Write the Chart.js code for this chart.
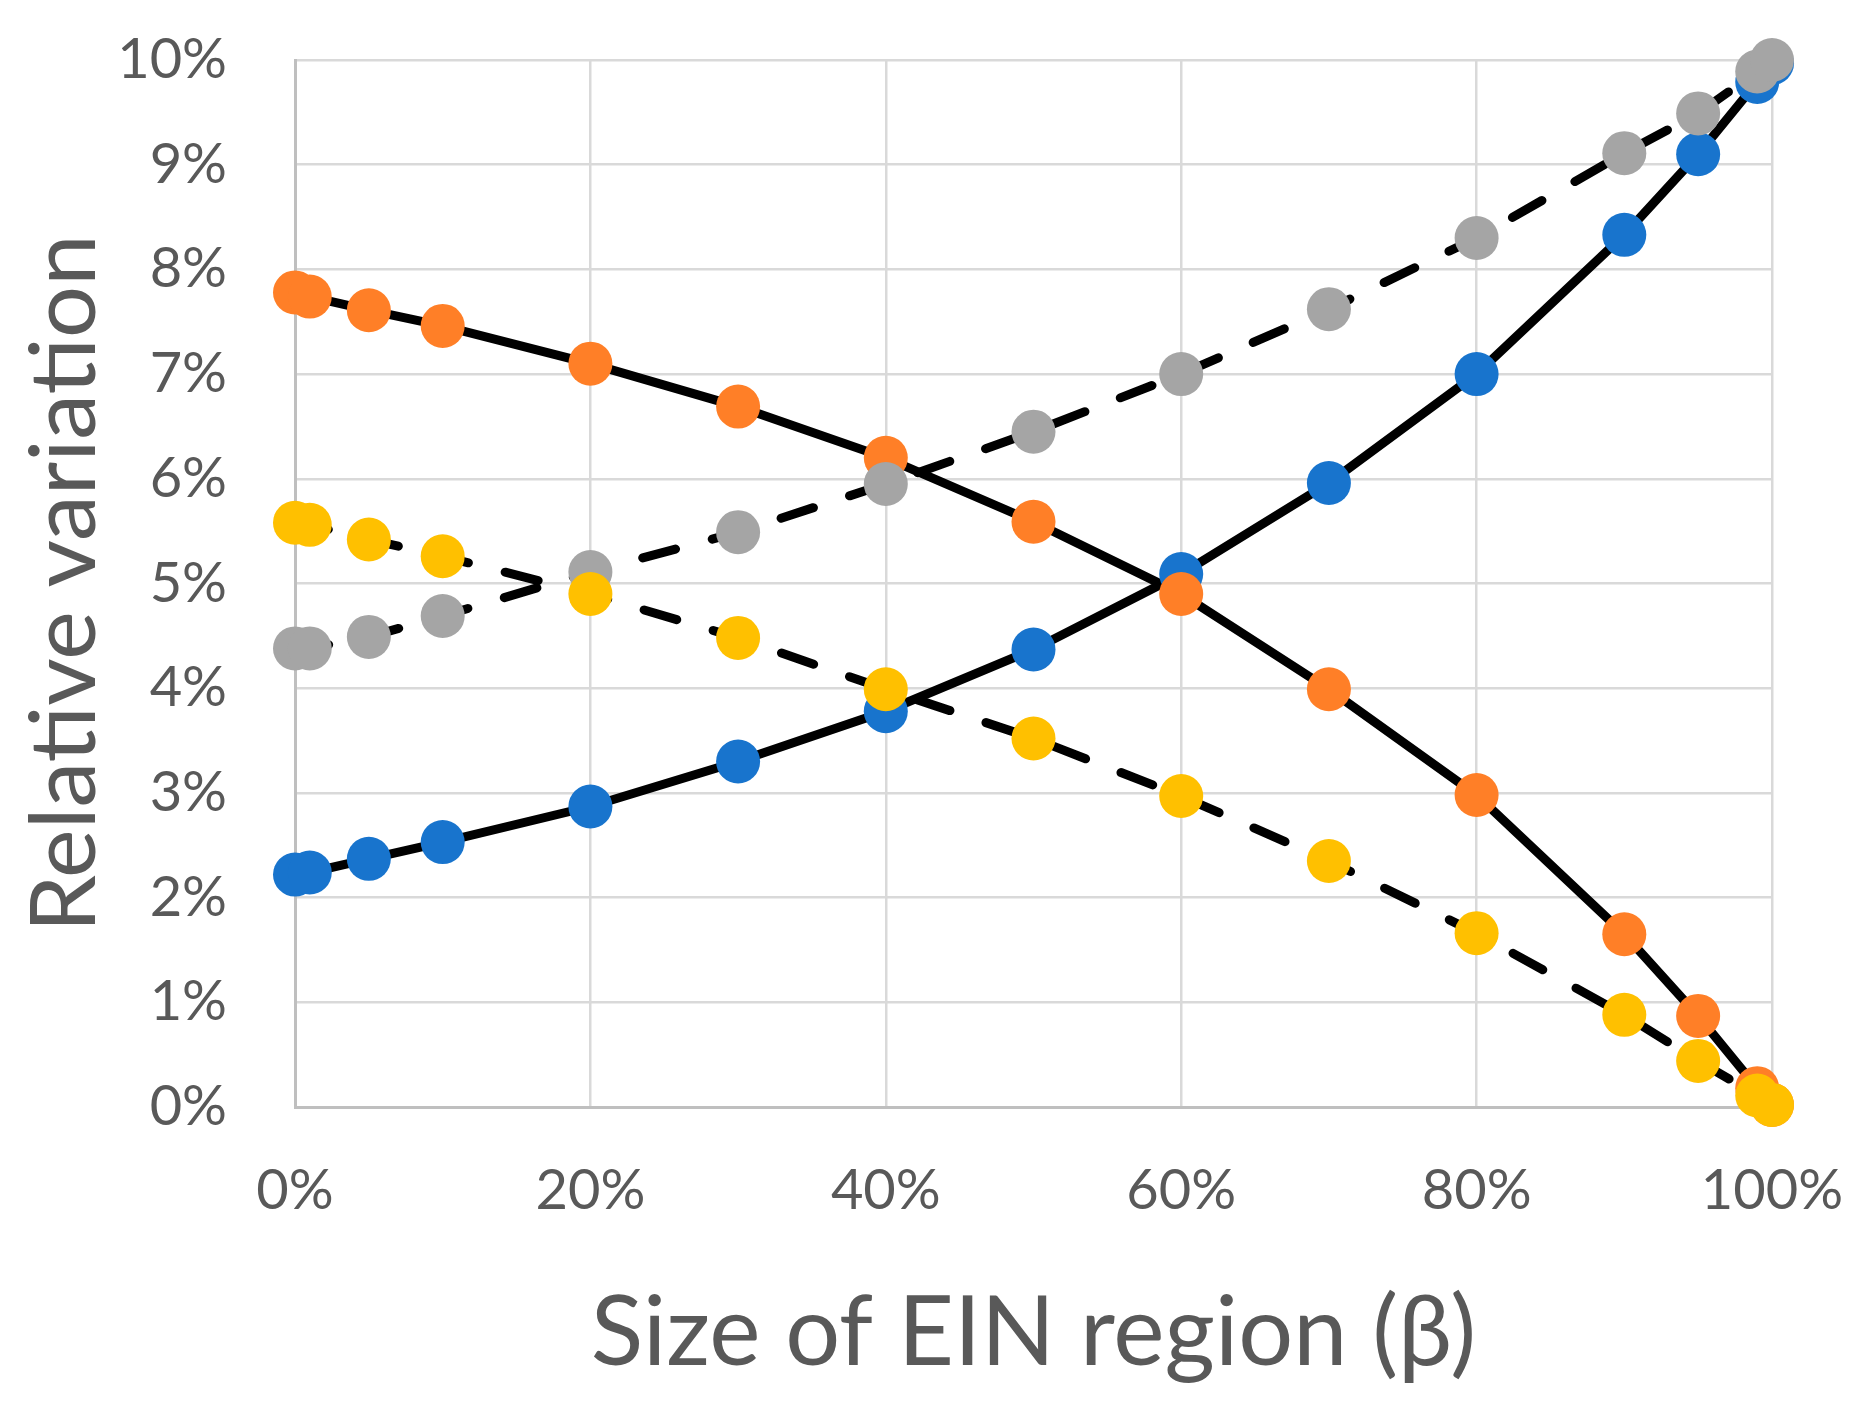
<!DOCTYPE html>
<html>
<head>
<meta charset="utf-8">
<script src="https://cdn.jsdelivr.net/npm/chart.js@4.4.1/dist/chart.umd.min.js"></script>
<style>
    html, body { margin: 0; padding: 0; background: #fff; }
</style>
</head>
<body>
<canvas id="relChart" width="1871" height="1402"></canvas>
<script>
// size of EIN region (beta), in %
const beta = [0, 1, 5, 10, 20, 30, 40, 50, 60, 70, 80, 90, 95, 99, 100];
// relative variation, in %
const blueVals = [2.22, 2.24, 2.37, 2.53, 2.87, 3.30, 3.78, 4.37, 5.09, 5.96, 7.00, 8.33, 9.10, 9.79, 9.97];
const orangeVals = [7.78, 7.74, 7.61, 7.46, 7.10, 6.69, 6.20, 5.59, 4.90, 3.99, 2.98, 1.65, 0.87, 0.18, 0.02];
const grayVals = [4.38, 4.38, 4.49, 4.69, 5.11, 5.49, 5.95, 6.45, 7.00, 7.62, 8.30, 9.11, 9.49, 9.89, 10.0];
const yellowVals = [5.58, 5.56, 5.42, 5.26, 4.90, 4.48, 3.99, 3.52, 2.97, 2.35, 1.66, 0.88, 0.44, 0.11, 0.02];
const xTicks = [0, 20, 40, 60, 80, 100];
const yTicks = [0, 1, 2, 3, 4, 5, 6, 7, 8, 9, 10];

const toXY = vals => vals.map((v, i) => ({ x: beta[i], y: v }));

const series = [
    { vals: yellowVals, color: '#FFC000', dashed: true },
    { vals: grayVals, color: '#A5A5A5', dashed: true },
    { vals: orangeVals, color: '#FF7F27', dashed: false },
    { vals: blueVals, color: '#1874CD', dashed: false }
];

const datasets = [];
series.forEach((s, i) => {
    // markers
    datasets.push({
        data: toXY(s.vals),
        showLine: false,
        pointRadius: 22,
        pointHoverRadius: 22,
        pointBorderWidth: 0,
        pointBackgroundColor: s.color,
        clip: false,
        order: i + 1
    });
    // black connecting line, drawn under all markers
    datasets.push({
        data: toXY(s.vals),
        borderColor: '#000',
        borderWidth: 9,
        borderDash: s.dashed ? [34, 38] : [],
        borderCapStyle: s.dashed ? 'round' : 'butt',
        pointRadius: 0,
        fill: false,
        order: 10 + i
    });
});

const tickFont = { family: 'Lato', size: 56 };

const ctx = document.getElementById('relChart').getContext('2d');
const relChart = new Chart(ctx, {
    type: 'line',
    data: { datasets: datasets },
    options: {
        responsive: false,
        devicePixelRatio: 1,
        animation: false,
        layout: { autoPadding: false, padding: { top: 60, right: 99, left: 0, bottom: 0 } },
        plugins: { legend: { display: false }, tooltip: { enabled: false } },
        scales: {
            x: {
                type: 'linear',
                min: 0,
                max: 100,
                afterBuildTicks: axis => { axis.ticks = xTicks.map(v => ({ value: v })); },
                afterFit: axis => { axis.height = 295; axis.paddingLeft = 0; axis.paddingRight = 0; },
                ticks: { font: tickFont, color: '#595959', padding: 50, maxRotation: 0, callback: v => v + '%' },
                grid: { color: '#d9d9d9', lineWidth: 2.5, drawTicks: false },
                border: { color: '#bfbfbf', width: 3 },
                title: {
                    display: true,
                    text: 'Size of EIN region (β)',
                    font: { family: 'Lato', size: 97 },
                    color: '#595959',
                    padding: { top: 0, bottom: 10 }
                }
            },
            y: {
                type: 'linear',
                min: 0,
                max: 10,
                afterBuildTicks: axis => { axis.ticks = yTicks.map(v => ({ value: v })); },
                afterFit: axis => { axis.width = 295; axis.paddingTop = 0; axis.paddingBottom = 0; },
                ticks: { font: tickFont, color: '#595959', padding: 68, callback: v => v + '%' },
                grid: { color: '#d9d9d9', lineWidth: 2.5, drawTicks: false },
                border: { color: '#bfbfbf', width: 3 },
                title: {
                    display: true,
                    text: 'Relative variation',
                    font: { family: 'Lato', size: 92 },
                    color: '#595959',
                    padding: { top: 10, bottom: 0 }
                }
            }
        }
    }
});
</script>
</body>
</html>
